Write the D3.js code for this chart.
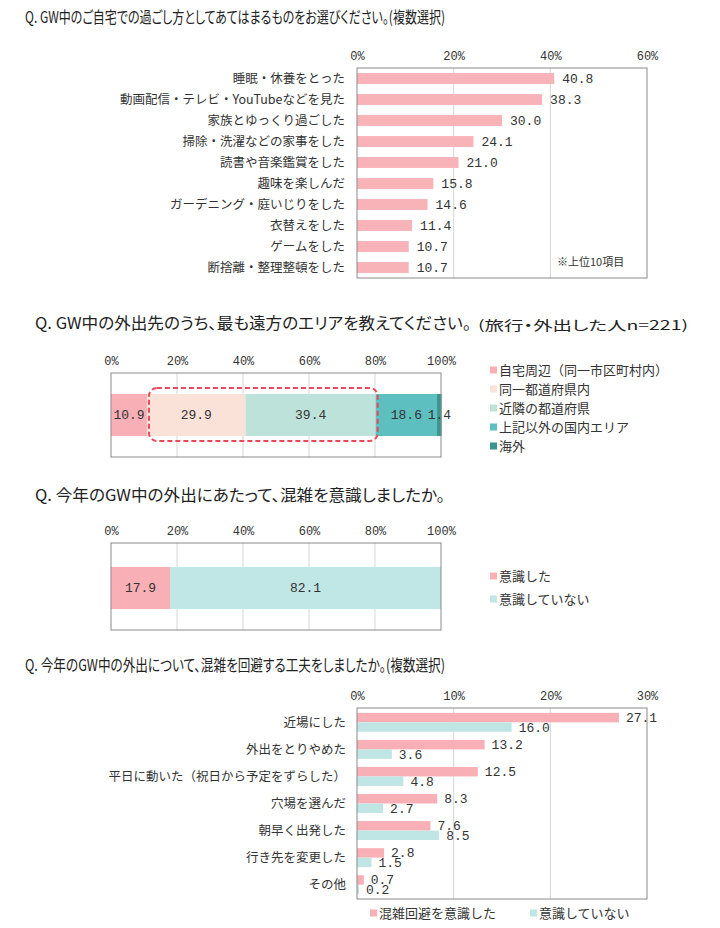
<!DOCTYPE html>
<html>
<head>
<meta charset="utf-8">
<script src="https://cdn.jsdelivr.net/npm/d3@7"></script>
<style>
  body { margin: 0; background: #fff; }
  svg { display: block; }
</style>
</head>
<body>
<div id="chart"></div>
<script>
(function(){
  // Q1
  const q1Categories = ["睡眠・休養をとった", "動画配信・テレビ・YouTubeなどを見た", "家族とゆっくり過ごした",
    "掃除・洗濯などの家事をした", "読書や音楽鑑賞をした", "趣味を楽しんだ", "ガーデニング・庭いじりをした",
    "衣替えをした", "ゲームをした", "断捨離・整理整頓をした"];
  const q1Values = [40.8, 38.3, 30.0, 24.1, 21.0, 15.8, 14.6, 11.4, 10.7, 10.7];
  const q1Ticks = [0, 20, 40, 60];

  // Q2
  const q2Series = ["自宅周辺（同一市区町村内）", "同一都道府県内", "近隣の都道府県", "上記以外の国内エリア", "海外"];
  const q2Values = [10.9, 29.9, 39.4, 18.6, 1.4];

  // Q3
  const q3Series = ["意識した", "意識していない"];
  const q3Values = [17.9, 82.1];

  const pctTicks = [0, 20, 40, 60, 80, 100];

  // Q4
  const q4Categories = ["近場にした", "外出をとりやめた", "平日に動いた（祝日から予定をずらした）",
    "穴場を選んだ", "朝早く出発した", "行き先を変更した", "その他"];
  const q4Series = ["混雑回避を意識した", "意識していない"];
  const q4Aware = [27.1, 13.2, 12.5, 8.3, 7.6, 2.8, 0.7];
  const q4NotAware = [16.0, 3.6, 4.8, 2.7, 8.5, 1.5, 0.2];
  const q4Ticks = [0, 10, 20, 30];

  const jp = "'Noto Sans CJK JP', 'Noto Sans', sans-serif";
  const num = "'Liberation Mono', 'DejaVu Sans Mono', monospace";
  const pink = "#f8b3b9";
  const q2Colors = ["#f8b0b6", "#fae2d9", "#bde2da", "#5dbfbf", "#3a958f"];
  const q3Colors = ["#f8b0b6", "#c0e6e5"];
  const q4Colors = ["#f8b0b6", "#bfe5e4"];
  const gridColor = "#d6d6d6";
  const borderColor = "#8a8a8a";
  const textColor = "#333";

  const svg = d3.select("#chart").append("svg")
    .attr("width", 720)
    .attr("height", 928);

  svg.append("rect").attr("width", 720).attr("height", 928).attr("fill", "#fff");

  function title(x, y, txt, len, size) {
    svg.append("text")
      .attr("x", x).attr("y", y)
      .attr("dominant-baseline", "middle")
      .attr("textLength", len)
      .attr("lengthAdjust", "spacingAndGlyphs")
      .style("font-family", jp)
      .style("font-weight", 400)
      .style("font-feature-settings", "'palt'")
      .style("font-size", (size || 16) + "px")
      .style("fill", "#222")
      .text(txt);
  }

  // helper: grid and top tick labels
  function frame(x, y0, y1, ticks) {
    svg.append("g").selectAll("line")
      .data(ticks.slice(1, -1))
      .enter().append("line")
      .attr("x1", d => x(d)).attr("x2", d => x(d))
      .attr("y1", y0).attr("y2", y1)
      .attr("stroke", gridColor);
    const ax = svg.append("g")
      .attr("transform", `translate(0,${y0})`)
      .call(d3.axisTop(x).tickValues(ticks).tickSize(0).tickPadding(8).tickFormat(d => d + "%"));
    ax.select(".domain").remove();
    ax.selectAll("text")
      .style("font-family", num)
      .style("font-size", "12px")
      .style("fill", textColor);
  }
  function border(x, y0, y1) {
    svg.append("rect")
      .attr("x", x.range()[0]).attr("y", y0)
      .attr("width", x.range()[1] - x.range()[0])
      .attr("height", y1 - y0)
      .attr("fill", "none")
      .attr("stroke", borderColor);
  }
  function legend(items, colors, pos) {
    const g = svg.append("g").selectAll("g")
      .data(items)
      .enter().append("g")
      .attr("transform", (d, i) => `translate(${pos(i)[0]},${pos(i)[1]})`);
    g.append("rect").attr("x", 0).attr("y", -3.5).attr("width", 7).attr("height", 7)
      .attr("fill", (d, i) => colors[i]);
    g.append("text").attr("x", 9).attr("y", 1)
      .attr("dominant-baseline", "middle")
      .style("font-family", jp).style("font-size", "13px").style("fill", textColor)
      .text(d => d);
  }

  // ---------- Q1 ----------
  title(25, 19, "Q. GW中のご自宅での過ごし方としてあてはまるものをお選びください。(複数選択)", 420);

  const x1 = d3.scaleLinear().domain([0, 60]).range([357, 647]);
  const y1 = d3.scaleBand().domain(q1Categories).range([68, 278]).paddingInner(0.48).paddingOuter(0.24);
  frame(x1, 68, 278, q1Ticks);

  svg.append("g").selectAll("rect")
    .data(q1Values)
    .enter().append("rect")
    .attr("x", x1(0))
    .attr("y", (d, i) => y1(q1Categories[i]))
    .attr("width", d => x1(d) - x1(0))
    .attr("height", y1.bandwidth())
    .attr("fill", pink);

  svg.append("g").selectAll("text")
    .data(q1Values)
    .enter().append("text")
    .attr("x", d => x1(d) + 8)
    .attr("y", (d, i) => y1(q1Categories[i]) + y1.bandwidth() / 2 + 1)
    .attr("dominant-baseline", "middle")
    .style("font-family", num).style("font-size", "13px").style("fill", textColor)
    .text(d => d.toFixed(1));

  svg.append("g").selectAll("text")
    .data(q1Categories)
    .enter().append("text")
    .attr("x", 345)
    .attr("y", d => y1(d) + y1.bandwidth() / 2 + 1)
    .attr("text-anchor", "end")
    .attr("dominant-baseline", "middle")
    .style("font-family", jp).style("font-size", "12.5px").style("fill", textColor)
    .text(d => d);

  border(x1, 68, 278);

  svg.append("text")
    .attr("x", 557).attr("y", 263)
    .attr("dominant-baseline", "middle")
    .style("font-family", jp).style("font-size", "11px").style("fill", textColor)
    .text("※上位10項目");

  // ---------- Q2 ----------
  title(35, 325, "Q. GW中の外出先のうち、最も遠方のエリアを教えてください。", 436);
  svg.append("text")
    .attr("x", 478).attr("y", 326)
    .attr("dominant-baseline", "middle")
    .attr("textLength", 210)
    .attr("lengthAdjust", "spacingAndGlyphs")
    .style("font-family", jp).style("font-size", "13px")
    .style("font-feature-settings", "'palt'")
    .style("fill", "#222")
    .text("(旅行・外出した人n=221)");

  const x2 = d3.scaleLinear().domain([0, 100]).range([111, 441]);
  frame(x2, 373, 457, pctTicks);

  const q2Stack = [];
  q2Values.reduce((acc, v, i) => { q2Stack.push({ v: v, x0: acc, x1: acc + v, i: i }); return acc + v; }, 0);

  svg.append("g").selectAll("rect")
    .data(q2Stack)
    .enter().append("rect")
    .attr("x", d => x2(d.x0))
    .attr("y", 394)
    .attr("width", d => x2(d.x1) - x2(d.x0))
    .attr("height", 42)
    .attr("fill", d => q2Colors[d.i]);

  svg.append("g").selectAll("text")
    .data(q2Stack)
    .enter().append("text")
    .attr("x", d => (x2(d.x0) + x2(d.x1)) / 2)
    .attr("y", 416)
    .attr("text-anchor", "middle")
    .attr("dominant-baseline", "middle")
    .style("font-family", num).style("font-size", "13px").style("fill", textColor)
    .text(d => d.v.toFixed(1));

  border(x2, 373, 457);

  // dashed highlight round segments 2 and 3
  svg.append("rect")
    .attr("x", x2(q2Stack[1].x0) + 2)
    .attr("y", 388)
    .attr("width", x2(q2Stack[2].x1) - x2(q2Stack[1].x0))
    .attr("height", 53)
    .attr("rx", 8).attr("ry", 8)
    .attr("fill", "none")
    .attr("stroke", "#ea4a5a")
    .attr("stroke-width", 2)
    .attr("stroke-dasharray", "5,3");

  legend(q2Series, q2Colors, i => [490, 370 + i * 19]);

  // ---------- Q3 ----------
  title(35, 497, "Q. 今年のGW中の外出にあたって、混雑を意識しましたか。", 410);

  const x3 = d3.scaleLinear().domain([0, 100]).range([111, 441]);
  frame(x3, 543, 630, pctTicks);

  const q3Stack = [];
  q3Values.reduce((acc, v, i) => { q3Stack.push({ v: v, x0: acc, x1: acc + v, i: i }); return acc + v; }, 0);

  svg.append("g").selectAll("rect")
    .data(q3Stack)
    .enter().append("rect")
    .attr("x", d => x3(d.x0))
    .attr("y", 567)
    .attr("width", d => x3(d.x1) - x3(d.x0))
    .attr("height", 42)
    .attr("fill", d => q3Colors[d.i]);

  svg.append("g").selectAll("text")
    .data(q3Stack)
    .enter().append("text")
    .attr("x", d => (x3(d.x0) + x3(d.x1)) / 2)
    .attr("y", 589)
    .attr("text-anchor", "middle")
    .attr("dominant-baseline", "middle")
    .style("font-family", num).style("font-size", "13px").style("fill", textColor)
    .text(d => d.v.toFixed(1));

  border(x3, 543, 630);

  legend(q3Series, q3Colors, i => [490, 576 + i * 23]);

  // ---------- Q4 ----------
  title(25, 667, "Q. 今年のGW中の外出について、混雑を回避する工夫をしましたか。(複数選択)", 420);

  const x4 = d3.scaleLinear().domain([0, 30]).range([357, 647]);
  const y4 = d3.scaleBand().domain(q4Categories).range([708, 899]).paddingInner(0.3).paddingOuter(0.18);
  const y4Inner = d3.scaleBand().domain([0, 1]).range([0, y4.bandwidth()]);
  frame(x4, 708, 899, q4Ticks);

  const q4Rows = [];
  q4Categories.forEach((c, i) => {
    q4Rows.push({ cat: c, s: 0, v: q4Aware[i] });
    q4Rows.push({ cat: c, s: 1, v: q4NotAware[i] });
  });

  svg.append("g").selectAll("rect")
    .data(q4Rows)
    .enter().append("rect")
    .attr("x", x4(0))
    .attr("y", d => y4(d.cat) + y4Inner(d.s))
    .attr("width", d => x4(d.v) - x4(0))
    .attr("height", y4Inner.bandwidth())
    .attr("fill", d => q4Colors[d.s]);

  svg.append("g").selectAll("text")
    .data(q4Rows)
    .enter().append("text")
    .attr("x", d => x4(d.v) + 7)
    .attr("y", d => y4(d.cat) + y4Inner(d.s) + y4Inner.bandwidth() / 2 + 1)
    .attr("dominant-baseline", "middle")
    .style("font-family", num).style("font-size", "13px").style("fill", textColor)
    .text(d => d.v.toFixed(1));

  svg.append("g").selectAll("text")
    .data(q4Categories)
    .enter().append("text")
    .attr("x", 346)
    .attr("y", d => y4(d) + y4.bandwidth() / 2 + 1)
    .attr("text-anchor", "end")
    .attr("dominant-baseline", "middle")
    .style("font-family", jp).style("font-size", "12.5px").style("fill", textColor)
    .text(d => d);

  border(x4, 708, 899);

  legend(q4Series, q4Colors, i => [370 + i * 160, 913]);
})();
</script>
</body>
</html>
